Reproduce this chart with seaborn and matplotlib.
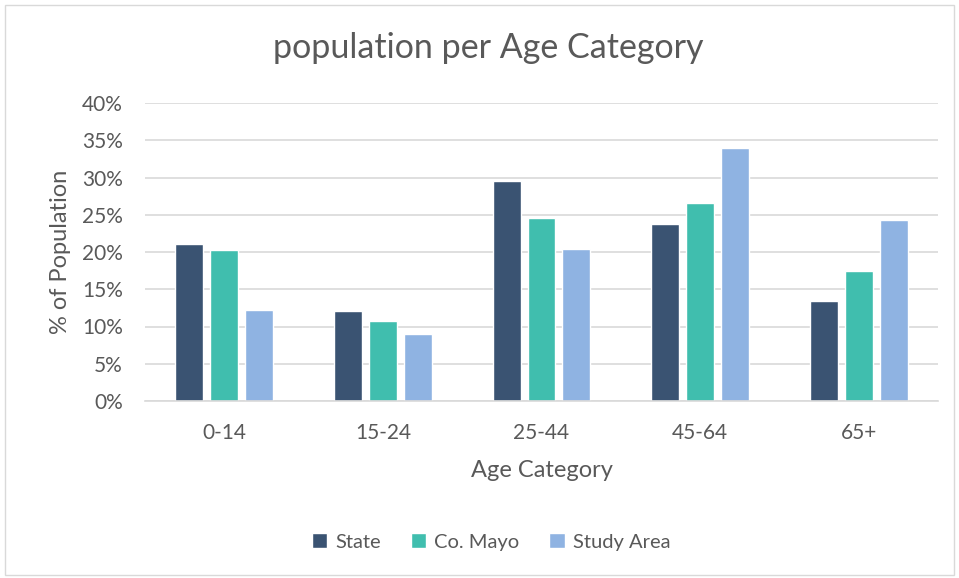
import matplotlib
matplotlib.use("Agg")
import matplotlib.pyplot as plt
import seaborn as sns
import pandas as pd
from matplotlib.patches import Rectangle
from matplotlib.ticker import PercentFormatter

categories = ["0-14", "15-24", "25-44", "45-64", "65+"]
state = [21.1, 12.1, 29.5, 23.8, 13.4]
co_mayo = [20.3, 10.8, 24.6, 26.6, 17.5]
study_area = [12.2, 9.0, 20.4, 33.9, 24.3]
series_names = ["State", "Co. Mayo", "Study Area"]
colors = ["#3A5372", "#40BEAE", "#8FB3E2"]

rows = []
for name, vals in zip(series_names, [state, co_mayo, study_area]):
    for c, v in zip(categories, vals):
        rows.append({"Age Category": c, "Series": name, "Value": v})
df = pd.DataFrame(rows)

sns.set_theme(style="white")
plt.rcParams["font.family"] = ["Lato", "DejaVu Sans"]
text_color = "#595959"

fig = plt.figure(figsize=(9.59, 5.78), dpi=100)
ax = fig.add_axes([145 / 959, 1 - 401 / 578, (938 - 145) / 959, (401 - 103) / 578])

sns.barplot(data=df, x="Age Category", y="Value", hue="Series",
            hue_order=series_names, order=categories, palette=colors,
            width=0.66, gap=0.2, ax=ax, legend=True, saturation=1)

ax.set_ylim(0, 40)
ax.set_yticks(range(0, 41, 5))
ax.yaxis.set_major_formatter(PercentFormatter(decimals=0))
ax.grid(axis="y", color="#D9D9D9", linewidth=1.2)
ax.set_axisbelow(True)
for s in ["top", "right", "left"]:
    ax.spines[s].set_visible(False)
ax.spines["bottom"].set_color("#D9D9D9")
ax.spines["bottom"].set_linewidth(1.2)
ax.tick_params(axis="both", length=0, labelsize=15, colors=text_color)
ax.tick_params(axis="y", pad=16)
ax.tick_params(axis="x", pad=16)

ax.set_xlabel("Age Category", fontsize=17, color=text_color, labelpad=12)
ax.set_ylabel("% of Population", fontsize=17, color=text_color, labelpad=8)

fig.text(488 / 959, 1 - 48 / 578, "population per Age Category", ha="center", va="center",
         fontsize=24.5, color=text_color)

handles, labels = ax.get_legend_handles_labels()
ax.legend_.remove()
fig.legend(handles, labels, loc="center", bbox_to_anchor=(491 / 959, 1 - 542 / 578),
           ncol=3, frameon=False, fontsize=14.5, handlelength=0.75, handleheight=0.75,
           handletextpad=0.4, columnspacing=1.5, labelcolor=text_color)

fig.patches.append(Rectangle((5 / 959, 3 / 578), 1 - 10 / 959, 1 - 8 / 578,
                             transform=fig.transFigure, fill=False,
                             edgecolor="#D9D9D9", linewidth=1))

fig.savefig("out.png", dpi=100)
